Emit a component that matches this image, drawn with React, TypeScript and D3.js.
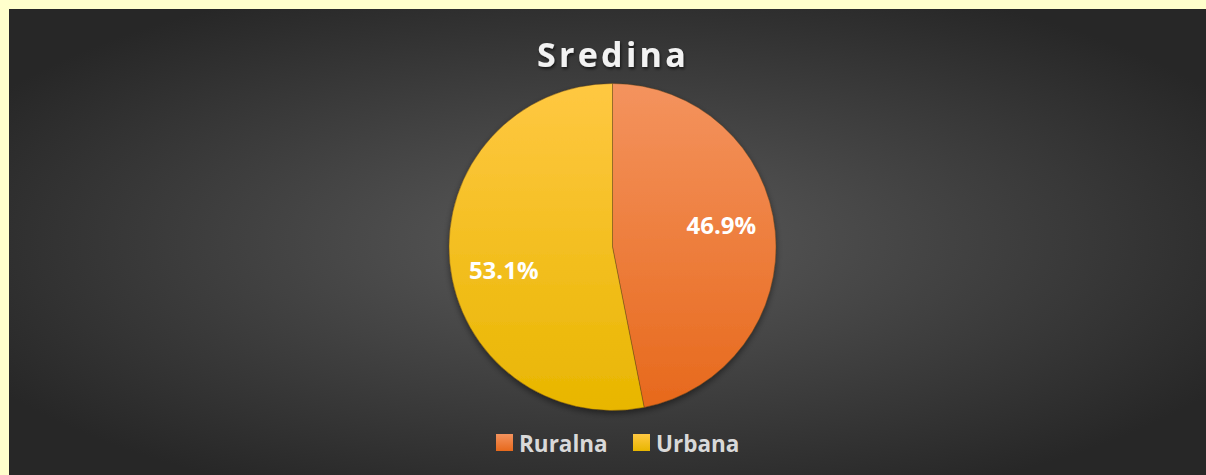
import React from "react";
import * as d3 from "d3";

const categories = ["Ruralna", "Urbana"];
const values = [46.9, 53.1];
const labels = ["46.9%", "53.1%"];

const W = 1206;
const H = 475;

export default function App() {
  const cx = 612.5;
  const cy = 247;
  const r = 163.5;
  const pie = d3.pie<number>().sort(null).value((d) => d)(values);
  const arc = d3.arc<d3.PieArcDatum<number>>().innerRadius(0).outerRadius(r);
  const fills = ["url(#gOrange)", "url(#gYellow)"];
  const legendX = [496, 633];
  const font = "'Open Sans', Lato, sans-serif";
  const labelR = r * 0.68;
  const labelShift = -0.11;
  return (
    <svg width={W} height={H} style={{ position: "absolute", left: 0, top: 0 }}>
      <defs>
        <radialGradient id="bg" cx="0.5" cy="0.5" r="0.6" gradientUnits="objectBoundingBox">
          <stop offset="0" stopColor="#5b5b5b" />
          <stop offset="1" stopColor="#272727" />
        </radialGradient>
        <linearGradient id="gOrange" x1="0" y1="0" x2="0" y2="1">
          <stop offset="0" stopColor="#F4935E" />
          <stop offset="1" stopColor="#E7691C" />
        </linearGradient>
        <linearGradient id="gYellow" x1="0" y1="0" x2="0" y2="1">
          <stop offset="0" stopColor="#FFC842" />
          <stop offset="1" stopColor="#E8B600" />
        </linearGradient>
        <filter id="shadow" x="-20%" y="-20%" width="140%" height="140%">
          <feDropShadow dx="0" dy="3" stdDeviation="3" floodColor="#000" floodOpacity="0.45" />
        </filter>
        <filter id="tshadow" x="-20%" y="-20%" width="140%" height="160%">
          <feDropShadow dx="1" dy="2" stdDeviation="1.5" floodColor="#000" floodOpacity="0.6" />
        </filter>
      </defs>
      <rect x={0} y={0} width={W} height={H} fill="#FFFFCC" />
      <rect x={9} y={9} width={W - 9} height={H - 9} fill="url(#bg)" />
      <text
        x={613}
        y={67}
        textAnchor="middle"
        fill="#F2F2F2"
        fontFamily={font}
        fontWeight="bold"
        fontSize={34}
        letterSpacing={3.3}
        filter="url(#tshadow)"
      >
        Sredina
      </text>
      <g transform={`translate(${cx},${cy})`} filter="url(#shadow)">
        {pie.map((p, i) => (
          <path key={i} d={arc(p) || ""} fill={fills[i]} stroke="rgba(90,60,20,0.5)" strokeWidth={0.8} />
        ))}
      </g>
      <g transform={`translate(${cx},${cy})`}>
        {pie.map((p, i) => {
          const a = (p.startAngle + p.endAngle) / 2 + labelShift;
          const lx = labelR * Math.sin(a);
          const ly = -labelR * Math.cos(a);
          return (
            <text
              key={i}
              x={lx}
              y={ly}
              textAnchor="middle"
              dominantBaseline="central"
              fill="#FFFFFF"
              fontFamily={font}
              fontWeight="bold"
              fontSize={24}
            >
              {labels[i]}
            </text>
          );
        })}
      </g>
      {categories.map((c, i) => (
        <g key={c}>
          <rect x={legendX[i]} y={434} width={17} height={17} fill={fills[i]} />
          <text
            x={legendX[i] + 23}
            y={443}
            dominantBaseline="central"
            fill="#D9D9D9"
            fontFamily={font}
            fontWeight="bold"
            fontSize={22.5}
          >
            {c}
          </text>
        </g>
      ))}
    </svg>
  );
}
